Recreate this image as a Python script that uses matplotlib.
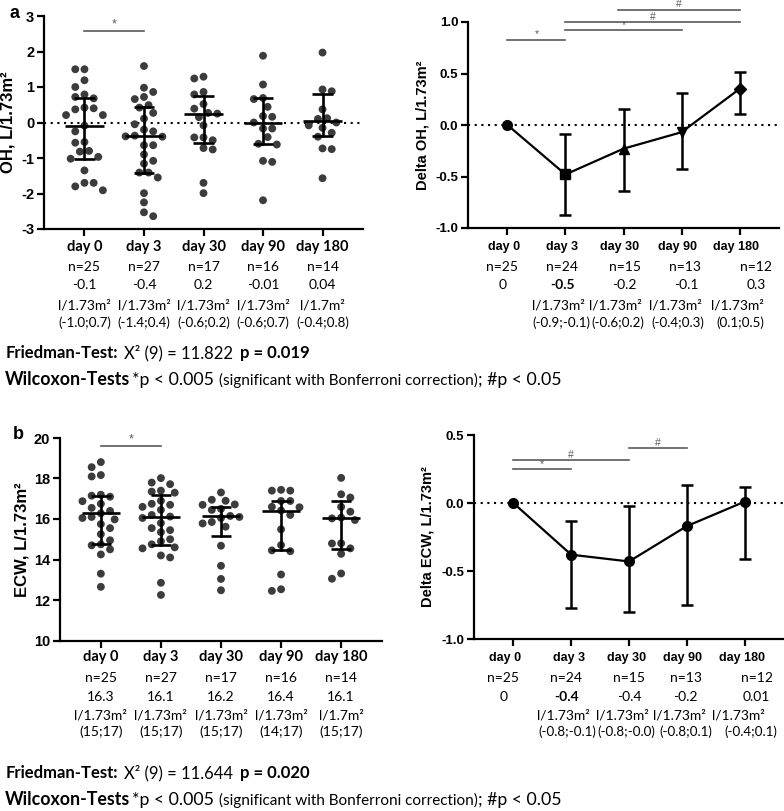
import numpy as np
import matplotlib
matplotlib.use("Agg")
import matplotlib.pyplot as plt
from matplotlib import transforms

W, H = 784, 811

# ---------------- data ----------------
days = ["day 0", "day 3", "day 30", "day 90", "day 180"]

# panel a (left): OH, L/1.73m2 individual values
oh_day0 = [1.50, 1.50, 1.19, 1.00, 0.79, 0.72, 0.68, 0.42, 0.40, 0.37, 0.21, 0.21, -0.09,
           -0.25, -0.55, -0.57, -0.80, -0.82, -0.97, -1.02, -1.35, -1.70, -1.70, -1.80, -1.91]
oh_day3 = [1.59, 0.98, 0.86, 0.72, 0.66, 0.49, 0.42, 0.27, 0.11, -0.05, -0.20, -0.25, -0.37,
           -0.39, -0.40, -0.64, -0.64, -0.90, -1.08, -1.16, -1.41, -1.41, -1.55, -1.99, -2.25,
           -2.53, -2.64]
oh_day30 = [1.29, 1.24, 0.86, 0.79, 0.52, 0.39, 0.27, 0.25, 0.15, -0.08, -0.42, -0.42, -0.50,
            -0.72, -0.76, -1.70, -1.99]
oh_day90 = [1.88, 1.07, 0.69, 0.66, 0.44, 0.18, 0.16, 0.00, -0.17, -0.17, -0.41, -0.60, -0.62,
            -1.08, -1.11, -2.19]
oh_day180 = [1.97, 0.93, 0.88, 0.37, 0.12, 0.10, 0.00, -0.08, -0.15, -0.29, -0.40, -0.73,
             -0.75, -1.57]
oh_median = [-0.09, -0.37, 0.25, -0.01, 0.04]
oh_q1 = [-1.03, -1.41, -0.59, -0.61, -0.38]
oh_q3 = [0.68, 0.43, 0.74, 0.68, 0.81]

# panel a (right): Delta OH
delta_oh = [0.0, -0.48, -0.23, -0.07, 0.35]
delta_oh_lo = [0.0, -0.87, -0.64, -0.43, 0.11]
delta_oh_hi = [0.0, -0.09, 0.16, 0.31, 0.51]

# panel b (left): ECW, L/1.73m2 individual values
ecw_day0 = [18.81, 18.56, 18.17, 18.10, 17.20, 17.15, 17.10, 16.88, 16.75, 16.55, 16.40, 16.28,
            16.10, 16.05, 15.98, 15.75, 15.55, 15.25, 14.95, 14.75, 14.70, 14.50, 14.25, 13.30,
            12.65]
ecw_day3 = [18.02, 17.80, 17.72, 17.40, 17.35, 17.30, 16.90, 16.75, 16.70, 16.60, 16.45, 16.20,
            16.12, 16.05, 15.80, 15.55, 15.45, 15.35, 15.00, 14.90, 14.75, 14.60, 14.55, 14.20,
            14.10, 12.85, 12.25]
ecw_day30 = [17.31, 16.95, 16.90, 16.72, 16.70, 16.50, 16.45, 16.15, 16.10, 16.05, 15.85, 15.78,
             15.62, 14.68, 13.69, 13.04, 12.48]
ecw_day90 = [17.44, 17.40, 17.40, 16.89, 16.89, 16.60, 16.58, 16.42, 16.20, 15.49, 14.71, 14.45,
             14.41, 13.26, 12.53, 12.45]
ecw_day180 = [18.03, 17.22, 17.06, 16.60, 16.36, 16.07, 16.03, 15.95, 14.80, 14.79, 14.55, 14.28,
              13.31, 13.05]
ecw_median = [16.28, 16.12, 16.15, 16.41, 16.05]
ecw_q1 = [14.79, 14.71, 15.16, 14.46, 14.51]
ecw_q3 = [17.14, 17.17, 16.61, 16.89, 16.89]

# panel b (right): Delta ECW
delta_ecw = [0.0, -0.38, -0.43, -0.17, 0.01]
delta_ecw_lo = [0.0, -0.77, -0.80, -0.75, -0.41]
delta_ecw_hi = [0.0, -0.13, -0.02, 0.13, 0.12]

# significance brackets: (from, to, height, symbol)
oh_sig = [(0, 1, 2.59, "*")]
doh_sig = [(0, 1, 0.83, "*"), (1, 3, 0.92, "*"), (1, 4, 1.00, "#"), (1.9, 4, 1.12, "#")]
ecw_sig = [(0, 1, 19.59, "*")]
decw_sig = [(0, 1, 0.247, "*"), (0, 2, 0.316, "#"), (2, 3, 0.404, "#")]

# tables under the axes
oh_n = ["n=25", "n=27", "n=17", "n=16", "n=14"]
oh_txt = ["-0.1", "-0.4", "0.2", "-0.01", "0.04"]
oh_unit = ["l/1.73m²", "l/1.73m²", "l/1.73m²", "l/1.73m²", "l/1.7m²"]
oh_ci = ["(-1.0;0.7)", "(-1.4;0.4)", "(-0.6;0.2)", "(-0.6;0.7)", "(-0.4;0.8)"]

doh_n = ["n=25", "n=24", "n=15", "n=13", "n=12"]
doh_txt = ["0", "-0.5", "-0.2", "-0.1", "0.3"]
doh_unit = ["", "l/1.73m²", "l/1.73m²", "l/1.73m²", "l/1.73m²"]
doh_ci = ["", "(-0.9;-0.1)", "(-0.6;0.2)", "(-0.4;0.3)", "(0.1;0.5)"]

ecw_n = ["n=25", "n=27", "n=17", "n=16", "n=14"]
ecw_txt = ["16.3", "16.1", "16.2", "16.4", "16.1"]
ecw_unit = ["l/1.73m²", "l/1.73m²", "l/1.73m²", "l/1.73m²", "l/1.7m²"]
ecw_ci = ["(15;17)", "(15;17)", "(15;17)", "(14;17)", "(15;17)"]

decw_n = ["n=25", "n=24", "n=15", "n=13", "n=12"]
decw_txt = ["0", "-0.4", "-0.4", "-0.2", "0.01"]
decw_unit = ["", "l/1.73m²", "l/1.73m²", "l/1.73m²", "l/1.73m²"]
decw_ci = ["", "(-0.8;-0.1)", "(-0.8;-0.0)", "(-0.8;0.1)", "(-0.4;0.1)"]

# ---------------- figure ----------------
ARIAL = "Liberation Sans"
CAL = "Lato"
DOT = "#3c3c3c"
SIG = "#5a5a5a"

fig = plt.figure(figsize=(W / 100, H / 100), dpi=100)
fig.patch.set_facecolor("white")


def add_ax(x0, y0, x1, y1):
    return fig.add_axes([x0 / W, 1 - y1 / H, (x1 - x0) / W, (y1 - y0) / H])


def style(ax, ylim, yticks, labels, ysize, zero=True):
    ax.set_xlim(-0.68, 4.68)
    ax.set_ylim(*ylim)
    for s in ["top", "right"]:
        ax.spines[s].set_visible(False)
    for s in ["left", "bottom"]:
        ax.spines[s].set_linewidth(1.6)
    ax.set_xticks(range(5))
    ax.set_xticklabels([])
    ax.set_yticks(yticks)
    ax.set_yticklabels(labels, fontfamily=ARIAL, fontweight="bold", fontsize=ysize)
    ax.tick_params(direction="out", length=5, width=1.6, pad=2)
    if zero:
        ax.axhline(0, color="black", lw=1.5, ls=(0, (1, 2.2)), zorder=1)


def swarm(ax, xc, vals, dmin=9.0, step=4.6):
    tr = ax.transData
    vals = np.asarray(vals, float)
    ypx = tr.transform(np.column_stack([np.full(len(vals), xc), vals]))[:, 1]
    xpx0 = tr.transform([(xc, 0)])[0, 0]
    pxu = tr.transform([(xc + 1, 0)])[0, 0] - xpx0
    order = np.argsort(-vals, kind="stable")
    placed = []
    offs = np.zeros(len(vals))
    flip = 1
    for i in order:
        y = ypx[i]
        chosen = None
        for k in range(0, 30):
            cands = [0.0] if k == 0 else [flip * k * step, -flip * k * step]
            for c in cands:
                ok = all((c - px) ** 2 + (y - py) ** 2 >= dmin ** 2 for px, py in placed)
                if ok:
                    chosen = c
                    break
            if chosen is not None:
                break
        placed.append((chosen, y))
        offs[i] = chosen
        flip = -flip
    return xc + offs / pxu


def scatter_panel(ax, groups, med, q1, q3):
    for i, g in enumerate(groups):
        xs = swarm(ax, i, g)
        ax.scatter(xs, g, s=32, color=DOT, edgecolor="none", zorder=2)
        ax.plot([i - 0.32, i + 0.32], [med[i], med[i]], color="black", lw=1.9, zorder=3,
                solid_capstyle="butt")
        ax.plot([i, i], [q1[i], q3[i]], color="black", lw=1.9, zorder=3)
        for q in (q1[i], q3[i]):
            ax.plot([i - 0.17, i + 0.17], [q, q], color="black", lw=1.9, zorder=3,
                    solid_capstyle="butt")


def sig_bars(ax, sigs, size=9):
    for a, b, h, sym in sigs:
        ax.plot([a, b], [h, h], color=SIG, lw=1.2, clip_on=False, zorder=4)
        ax.annotate(sym, xy=((a + b) / 2, h), xytext=(0, 0.3), textcoords="offset points",
                    ha="center", va="bottom", fontsize=size, color=SIG,
                    fontfamily=ARIAL, annotation_clip=False)


def table(ax, rows, ys, fonts, weights=None, dx=None):
    bt = transforms.blended_transform_factory(ax.transData, fig.transFigure)
    for r, (row, ypx, fp) in enumerate(zip(rows, ys, fonts)):
        for i, s in enumerate(row):
            if not s:
                continue
            fw = fp.get("fontweight", "normal")
            if weights is not None and weights[r] is not None and weights[r][i]:
                fw = "bold"
            off = 0.0 if dx is None or dx[r] is None else dx[r][i]
            t = transforms.offset_copy(bt, fig=fig, x=off, y=0, units="dots")
            ax.text(i, 1 - ypx / H, s, transform=t, ha="center", va="center",
                    fontfamily=fp["fontfamily"], fontsize=fp["fontsize"], fontweight=fw)


def seq_text(x0, ybase, pieces):
    r = fig.canvas.get_renderer()
    x = x0
    for s, kw, gap in pieces:
        x += gap
        t = fig.text(x / W, 1 - ybase / H, s, ha="left", va="baseline", **kw)
        x += t.get_window_extent(renderer=r).width


x = np.arange(5)

# ---- panel a left ----
axA = add_ax(44, 16, 363, 229)
style(axA, (-3, 3), [-3, -2, -1, 0, 1, 2, 3], ["-3", "-2", "-1", "0", "1", "2", "3"], 10.5)
scatter_panel(axA, [oh_day0, oh_day3, oh_day30, oh_day90, oh_day180], oh_median, oh_q1, oh_q3)
sig_bars(axA, oh_sig)
axA.set_ylabel("OH, L/1.73m²", fontfamily=ARIAL, fontweight="bold", fontsize=12, va="center")
axA.yaxis.set_label_coords((8 - 44) / (363 - 44), 0.5)

# ---- panel a right ----
axB = add_ax(468, 22, 779, 228)
style(axB, (-1.0, 1.0), [-1.0, -0.5, 0.0, 0.5, 1.0], ["-1.0", "-0.5", "0.0", "0.5", "1.0"], 9.5)
axB.plot(x, delta_oh, color="black", lw=1.6, zorder=3)
axB.errorbar(x[1:], np.array(delta_oh[1:]),
             yerr=[np.array(delta_oh[1:]) - np.array(delta_oh_lo[1:]),
                   np.array(delta_oh_hi[1:]) - np.array(delta_oh[1:])],
             fmt="none", ecolor="black", elinewidth=1.8, capsize=4, capthick=1.8, zorder=3)
for i, mk in enumerate(["o", "s", "^", "v", "D"]):
    axB.plot([x[i]], [delta_oh[i]], marker=mk, color="black", ms=7 if mk != "D" else 6, zorder=4)
sig_bars(axB, doh_sig, size=7.5)
axB.set_ylabel("Delta OH, L/1.73m²", fontfamily=ARIAL, fontweight="bold", fontsize=10.5, va="center")
axB.yaxis.set_label_coords((422 - 468) / (779 - 468), 0.5)

# ---- panel b left ----
axC = add_ax(60, 438, 382, 640.5)
style(axC, (10, 20), [10, 12, 14, 16, 18, 20], ["10", "12", "14", "16", "18", "20"], 10.5, zero=False)
scatter_panel(axC, [ecw_day0, ecw_day3, ecw_day30, ecw_day90, ecw_day180], ecw_median, ecw_q1, ecw_q3)
sig_bars(axC, ecw_sig)
axC.set_ylabel("ECW, L/1.73m²", fontfamily=ARIAL, fontweight="bold", fontsize=12, va="center")
axC.yaxis.set_label_coords((22 - 60) / (382 - 60), 0.5)

# ---- panel b right ----
axD = add_ax(474, 435, 784, 639)
style(axD, (-1.0, 0.5), [-1.0, -0.5, 0.0, 0.5], ["-1.0", "-0.5", "0.0", "0.5"], 9.5)
axD.plot(x, delta_ecw, color="black", lw=1.6, zorder=3, marker="o", ms=7)
axD.errorbar(x[1:], np.array(delta_ecw[1:]),
             yerr=[np.array(delta_ecw[1:]) - np.array(delta_ecw_lo[1:]),
                   np.array(delta_ecw_hi[1:]) - np.array(delta_ecw[1:])],
             fmt="none", ecolor="black", elinewidth=1.8, capsize=4, capthick=1.8, zorder=3)
sig_bars(axD, decw_sig, size=7.5)
axD.set_ylabel("Delta ECW, L/1.73m²", fontfamily=ARIAL, fontweight="bold", fontsize=10.5, va="center")
axD.yaxis.set_label_coords((427 - 474) / (784 - 474), 0.5)

# ---- tables ----
calf = dict(fontfamily=CAL, fontsize=10)
calc = dict(fontfamily=CAL, fontsize=9.6)
calb = dict(fontfamily=CAL, fontsize=10.5, fontweight="bold")
arb = dict(fontfamily=ARIAL, fontsize=9, fontweight="bold")

table(axA, [days, oh_n, oh_txt, oh_unit, oh_ci], [247, 267, 285, 305, 323],
      [calb, calf, calf, calf, calc])
table(axB, [days, doh_n, doh_txt, doh_unit, doh_ci], [247, 267, 285, 305, 323],
      [arb, calf, calf, calf, calc],
      weights=[None, None, [False, True, False, False, False], None, None],
      dx=[[-3, -3, -4, -4, -4], [-5, -3, 1, 3, 16], [-5, -3, 1, 5, 17], [0, -7, -8, -6, -2],
          [0, -4, -6, -4, 1]])
table(axC, [days, ecw_n, ecw_txt, ecw_unit, ecw_ci], [657, 678, 697, 715, 732],
      [calb, calf, calf, calf, calf])
table(axD, [days, decw_n, decw_txt, decw_unit, decw_ci], [658, 678, 697, 715, 732],
      [arb, calf, calf, calf, calc],
      weights=[None, None, [False, True, False, False, False], None, None],
      dx=[[-8, -2, -2, -4, -3], [-10, -5, 0, -1, 12], [-10, -5, 0, -1, 12], [0, -8, -7, -7, -6],
          [0, -4, -3, -1, 6]])

# ---- panel letters ----
fig.text(10 / W, 1 - 14 / H, "a", fontfamily=ARIAL, fontweight="bold", fontsize=13, va="center")
fig.text(13 / W, 1 - 434 / H, "b", fontfamily=ARIAL, fontweight="bold", fontsize=13, va="center")

# ---- test lines ----
big_b = dict(fontfamily=CAL, fontsize=12, fontweight="bold")
big_r = dict(fontfamily=CAL, fontsize=12)
w_b = dict(fontfamily=CAL, fontsize=12.8, fontweight="bold")
w_r = dict(fontfamily=CAL, fontsize=12.8)
small_r = dict(fontfamily=CAL, fontsize=11)

for yf, yw, chi, p in [(358, 385, "11.822", "0.019"), (778, 805, "11.644", "0.020")]:
    seq_text(6, yf, [("Friedman-Test:", big_b, 0), ("X² (9) = " + chi, big_r, 6),
                     ("p = " + p, big_b, 6)])
    seq_text(5, yw, [("Wilcoxon-Tests", w_b, 0), ("*p < 0.005", w_r, 2),
                     ("(significant with Bonferroni correction)", small_r, 5),
                     ("; #p < 0.05", w_r, 0)])

fig.savefig("out.png", dpi=100, facecolor="white")
